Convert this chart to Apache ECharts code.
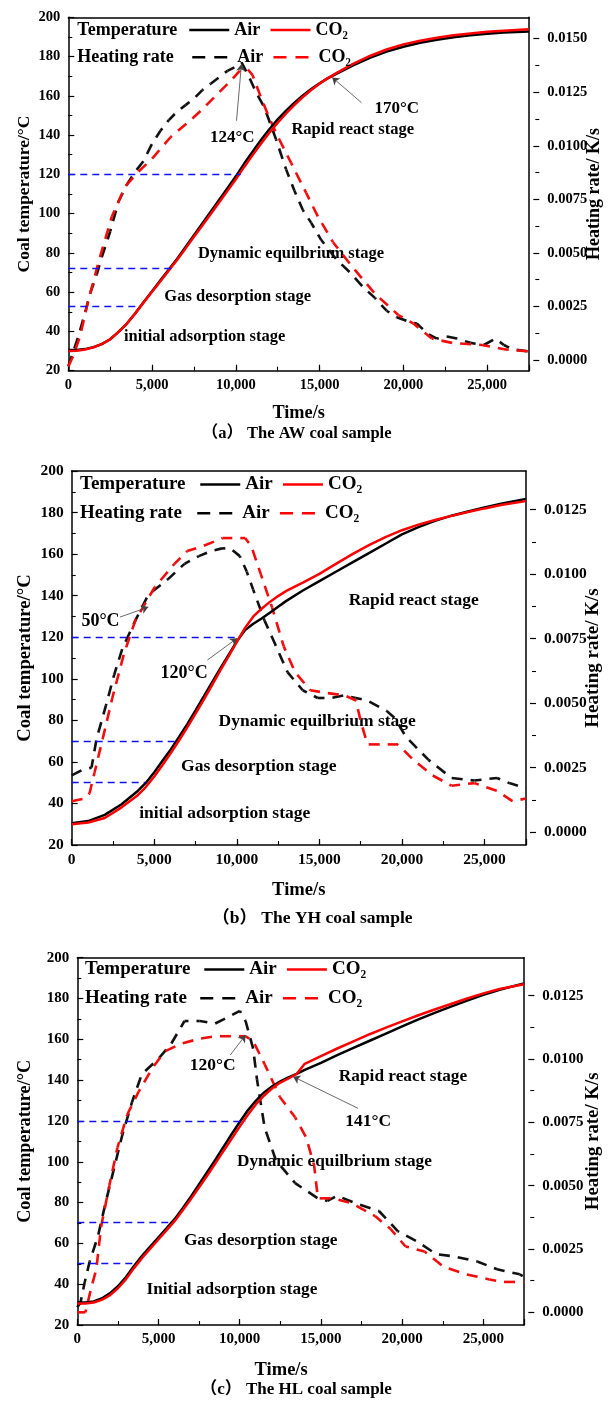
<!DOCTYPE html>
<html><head><meta charset="utf-8">
<script src="https://cdn.jsdelivr.net/npm/echarts@6/dist/echarts.min.js"></script>
<style>html,body{margin:0;padding:0;background:#fff}#c{width:611px;height:1403px}</style>
</head><body><div id="c"></div>
<script>
// ---------------- DATA ----------------
// Panel (a) AW coal
const aTempTime = [0,500,1000,1500,2000,2500,3000,3500,4000,4500,5000,5500,6000,6500,7000,7500,8000,8500,9000,9500,10000,10500,11000,11500,12000,12500,13000,13500,14000,14500,15000,15500,16000,17000,18000,19000,20000,21000,22000,23000,24000,25000,26000,27500];
const aTempAir  = [30.5,30.5,31,32,33.5,36,39.8,44,49.3,55,60.5,66,71.5,77,83,89,95,101,107,113,119,125.5,131.5,137.5,143,148,152.5,156.5,160.2,163.5,166.4,169,171.2,175.5,179.3,182.5,185,187,188.6,189.8,190.8,191.6,192.2,192.8];
const aTempCO2  = [30,30.2,30.8,31.9,33.6,36,39.8,44,49.2,54.8,60.2,65.6,71,76.5,82.3,88.2,94,99.8,105.7,111.6,117.5,123.8,129.8,135.6,141.2,146.3,151,155.4,159.4,163,166.2,169,171.6,176.3,180.3,183.6,186.2,188.1,189.6,190.8,191.8,192.6,193.2,193.9];
const aRateAirTime = [0,300,600,1000,1300,1700,2000,2500,3000,3500,4000,4500,5000,5500,6000,6500,7000,7500,8000,8500,9000,9500,10000,10340,10800,11200,11700,12400,13000,13500,14000,14500,15100,15600,16000,16800,17600,18300,19000,19600,20300,20800,21500,22000,22600,23200,24000,24800,25500,26000,26500,27500];
const aRateAir     = [-0.0003,0.0004,0.0011,0.0022,0.0031,0.0040,0.0048,0.0060,0.0074,0.0082,0.0088,0.0093,0.0101,0.0107,0.0112,0.0116,0.0119,0.0122,0.0126,0.0129,0.0132,0.0135,0.0137,0.0139,0.0132,0.0125,0.0118,0.0103,0.0089,0.0079,0.0070,0.0064,0.0056,0.0051,0.0047,0.0041,0.0034,0.0029,0.0023,0.0020,0.0018,0.0017,0.0012,0.0010,0.0011,0.0010,0.0008,0.0007,0.0010,0.0007,0.0005,0.0004];
const aRateCO2Time = [0,300,700,1200,1850,2600,3400,4200,5000,6100,7300,8000,8750,9650,10230,10680,11000,11480,12000,12400,13300,14200,14900,15800,16900,18300,19700,20600,21700,22900,24700,26000,27500];
const aRateCO2     = [-0.0003,0.0002,0.0011,0.0028,0.0047,0.0067,0.0081,0.0088,0.0094,0.0104,0.0112,0.0117,0.0123,0.0130,0.0135,0.0136,0.0133,0.0123,0.0113,0.0106,0.0092,0.0078,0.0067,0.0055,0.0044,0.0031,0.0021,0.0017,0.0010,0.0008,0.0007,0.0005,0.0004];
const aGuides = [[120,10290],[72,6250],[53,4300]];
const aArrows = [[10040,147.3,10338,176.2],[17502,156.5,15752,169.4]];

// Panel (b) YH coal
const bTempTime = [0,1000,2000,3000,4000,4500,5000,5500,6000,6500,7000,7500,8000,8500,9000,9500,10000,10500,11000,11500,12000,12500,13000,14000,15000,16000,17000,18000,19000,20000,21000,22000,23000,24000,25000,26000,27500];
const bTempAir  = [30.5,31.5,34.5,39.5,46,50,55,60.5,66,72,78.2,84.8,91.5,98.3,105,111.5,118,123.5,126.5,129,131.8,134.7,137.5,142.5,147,151.5,156,160.5,165,169.5,173,176,178.5,180.5,182.5,184.3,186.5];
const bTempCO2  = [30,30.8,33,38,44,48,53,58.5,64.3,70.3,76.6,83.2,90,97,104,110.8,117.8,124.5,130,133.7,137,139.8,142.3,146.3,150.5,155.3,160,164.3,168.2,171.5,174.2,176.4,178.4,180.3,182,183.6,185.5];
const bRateAirTime = [0,600,1200,1500,2070,2570,3060,3850,4640,5820,6830,7700,8450,9100,9600,10180,10600,10990,11680,12380,13070,13990,14900,15700,16500,17200,17900,19070,19600,20230,21610,23000,24380,25760,26500,27500];
const bRateAir     = [0.0022,0.0024,0.0025,0.0036,0.0049,0.0061,0.0071,0.0082,0.0092,0.0098,0.0104,0.0107,0.0109,0.0110,0.0110,0.0107,0.0101,0.0094,0.0082,0.0072,0.0062,0.0055,0.0052,0.0052,0.0053,0.0052,0.0051,0.0047,0.0044,0.0037,0.0028,0.0021,0.0020,0.0021,0.0019,0.0017];
const bRateCO2Time = [0,800,1080,1380,1870,2460,3160,3850,5030,6220,7000,7990,9140,10065,10500,10870,11450,12140,12840,13530,14450,15380,16530,17220,17500,17910,18840,19760,20690,21850,23000,24380,25760,26690,27500];
const bRateCO2     = [0.0012,0.0013,0.0015,0.0023,0.0036,0.0052,0.0069,0.0082,0.0095,0.0104,0.0109,0.0111,0.0114,0.0114,0.0114,0.0111,0.0100,0.0087,0.0072,0.0062,0.0055,0.0054,0.0053,0.0051,0.0043,0.0034,0.0034,0.0034,0.0028,0.0022,0.0018,0.0019,0.0016,0.0012,0.0013];
const bGuides = [[120,10000],[70,6260],[50,4450]];
const bArrows = [[2920,129.7,4640,134.5],[8217,109,10018,119.5]];

// Panel (c) HL coal
const cTempTime = [0,500,1000,1500,2000,2500,3000,3500,4000,4500,5000,5500,6000,6500,7000,7500,8000,8500,9000,9500,10000,10500,11000,11500,12000,12500,13000,13500,14000,15000,16000,17000,18000,19000,20000,21000,22000,23000,24000,25000,26000,27500];
const cTempAir  = [31,31,31.5,33,35.5,39,43.5,49,54,58.5,63,67.5,72,77.3,83,89,95,101,107.3,113.5,119.5,125.2,130,134,137,139.4,141.4,143.1,145,148.5,152.3,155.8,159.3,162.8,166.3,169.8,173,176,179,181.8,184.3,187.4];
const cTempCO2  = [30.5,30.5,31,32.3,34.5,38,42.5,48,53,57.5,62,66.5,71,76.3,81.8,87.5,93.3,99.2,105.3,111.3,117.2,123,128.2,132.5,136,138.8,140.8,143,148,151.8,155.5,159,162.5,165.7,168.8,171.8,174.6,177.3,180,182.5,184.7,187];
const cRateAirTime = [0,200,460,760,1270,1770,2270,2770,3370,3970,4980,5780,6600,7540,8480,9420,10010,10360,10830,11060,11530,12230,13410,14810,15400,16000,17160,18570,19740,20910,22090,23260,24660,25840,27240,27500];
const cRateAir     = [0.0002,0.0004,0.0012,0.0020,0.0030,0.0044,0.0057,0.0070,0.0083,0.0094,0.0100,0.0106,0.0115,0.0115,0.0114,0.0117,0.0119,0.0115,0.0104,0.0092,0.0073,0.0060,0.0051,0.0045,0.0044,0.0046,0.0043,0.0040,0.0032,0.0028,0.0023,0.0022,0.0020,0.0017,0.0015,0.0014];
const cRateCO2Time = [0,500,870,1170,1470,1970,2470,3070,3770,4580,5380,6380,7500,8480,9890,10360,10830,11530,12470,13410,14090,14580,14810,15750,16920,18330,19270,20210,21380,22550,23960,25370,26100,27500];
const cRateCO2     = [0,0,0.0010,0.0017,0.0034,0.0050,0.0065,0.0078,0.0087,0.0096,0.0103,0.0106,0.0108,0.0109,0.0109,0.0109,0.0107,0.0098,0.0085,0.0077,0.0069,0.0058,0.0045,0.0045,0.0043,0.0038,0.0033,0.0026,0.0024,0.0018,0.0015,0.0013,0.0012,0.0012];
const cGuides = [[120,10360],[70.3,5900],[50.2,3550]];
const cArrows = [[9418,152.3,10357,162.1],[17278,126.2,13288,141.7]];

// Texts
const xName = 'Time/s';
const leftName = 'Coal temperature/°C';
const rightName = 'Heating rate/ K/s';
const tempNames = ['Air','CO₂'];
const rateNames = ['Air ','CO₂ '];

// ---------------- LAYOUT ----------------
const FONT = "'Liberation Serif','Times New Roman',serif";
const CAPFONT = "'Liberation Serif','Noto Sans CJK SC',serif";
const panels = [
  {grid:{left:68.3,top:17.3,width:471,height:353.4}, rateMax:0.016, helper:{top:38.7,height:321.3,max:0.015},
   fs:{tick:14.5,xname:18.3,lname:17.5,rname:18,legend:18,stage:16.5,ann:17,cap:16.5},
   gaps:{l:34.5,r:56,x:33.5}, xnamePad:0,
   leg:{r1:[188,30],r2:[191,57.3],tx:77.3},
   tT:aTempTime,tA:aTempAir,tC:aTempCO2,rAT:aRateAirTime,rA:aRateAir,rCT:aRateCO2Time,rC:aRateCO2,guides:aGuides,arrows:aArrows,
   texts:[['124°C',232.3,137.3,'ann'],['170°C',396.7,108.3,'ann'],['Rapid react stage',352.7,130,'stage'],['Dynamic equilbrium stage',291,253.3,'stage'],['Gas desorption stage',237.7,296.7,'stage'],['initial adsorption stage',204.6,336.7,'stage'],['（a） The AW coal sample',296.6,433.3,'cap']]},
  {grid:{left:71.7,top:471,width:464.3,height:374}, rateMax:0.014, helper:{top:509.7,height:322.4,max:0.0125},
   fs:{tick:15.5,xname:18.6,lname:18.7,rname:19,legend:19,stage:17.5,ann:18,cap:17.5},
   gaps:{l:37.3,r:58.2,x:35.7}, xnamePad:0,
   leg:{r1:[199,484.5],r2:[196,513.3],tx:80},
   tT:bTempTime,tA:bTempAir,tC:bTempCO2,rAT:bRateAirTime,rA:bRateAir,rCT:bRateCO2Time,rC:bRateCO2,guides:bGuides,arrows:bArrows,
   texts:[['50°C',100.5,621.7,'ann'],['120°C',184.1,673.3,'ann'],['Rapid react stage',413.7,600.7,'stage'],['Dynamic equilbrium stage',317.2,721.7,'stage'],['Gas desorption stage',258.8,766,'stage'],['initial adsorption stage',224.7,813.3,'stage'],['（b） The YH coal sample',312.4,918.3,'cap']]},
  {grid:{left:77.3,top:957.7,width:457,height:367.3}, rateMax:0.014, helper:{top:995.7,height:316.6,max:0.0125},
   fs:{tick:15,xname:18.5,lname:18.2,rname:18.8,legend:19,stage:17.3,ann:17.5,cap:17},
   gaps:{l:43.2,r:60,x:35.7}, xnamePad:39,
   leg:{r1:[203,969.5],r2:[199,998.3],tx:85},
   tT:cTempTime,tA:cTempAir,tC:cTempCO2,rAT:cRateAirTime,rA:cRateAir,rCT:cRateCO2Time,rC:cRateCO2,guides:cGuides,arrows:cArrows,
   texts:[['120°C',212.8,1065,'ann'],['141°C',368.3,1121.7,'ann'],['Rapid react stage',403,1076.7,'stage'],['Dynamic equilbrium stage',334.4,1162,'stage'],['Gas desorption stage',260.7,1241,'stage'],['Initial adsorption stage',231.9,1289.3,'stage'],['（c） The HL coal sample',296,1390,'cap']]}
];

const zip = (t, v) => t.map((x, i) => [x, v[i]]);
const addCommas = v => String(v).replace(/\B(?=(\d{3})+(?!\d))/g, ',');
const AX = {color:'#000', width:1.5};
const DASH_ON = 11, DASH_OFF = 8;
const RATE_BLACK = '#111111', RATE_RED = '#f20d0d';

// split a pixel polyline into straight dash segments [x1,y1,x2,y2] with a continuous pattern
function dashSegments(pts, on, off) {
  const segs = [];
  let drawing = true, remain = on;
  for (let i = 1; i < pts.length; i++) {
    const x0 = pts[i - 1][0], y0 = pts[i - 1][1], x1 = pts[i][0], y1 = pts[i][1];
    const len = Math.hypot(x1 - x0, y1 - y0);
    if (!(len > 1e-9)) continue;
    const ux = (x1 - x0) / len, uy = (y1 - y0) / len;
    let pos = 0;
    while (len - pos > remain) {
      const np = pos + remain;
      if (drawing) segs.push([x0 + ux * pos, y0 + uy * pos, x0 + ux * np, y0 + uy * np]);
      pos = np;
      drawing = !drawing;
      remain = drawing ? on : off;
    }
    if (drawing) segs.push([x0 + ux * pos, y0 + uy * pos, x1, y1]);
    remain -= (len - pos);
  }
  return segs;
}

function rateSeries(name, xi, yi, pts, stroke) {
  return {type:'custom', name, xAxisIndex:xi, yAxisIndex:yi, data:pts, silent:true, animation:false,
    itemStyle:{color:stroke},
    renderItem:(params, api) => {
      if (params.dataIndex !== 0) return null;
      const px = pts.map(d => api.coord(d));
      return {type:'group', children:dashSegments(px, DASH_ON, DASH_OFF).map(s => ({
        type:'line', shape:{x1:s[0], y1:s[1], x2:s[2], y2:s[3]},
        style:{stroke, lineWidth:2.6, fill:null, lineCap:'butt'}}))};
    }};
}

const grid = [], xAxis = [], yAxis = [], series = [], legend = [], graphic = [];
panels.forEach((p, i) => {
  grid[i] = Object.assign({containLabel:false}, p.grid);
  grid[3 + i] = {left:p.grid.left, width:p.grid.width, top:p.helper.top, height:p.helper.height, containLabel:false};
});
panels.forEach((p, i) => {
  const lab = {fontFamily:FONT, fontWeight:'bold', fontSize:p.fs.tick, color:'#000'};
  xAxis.push({gridIndex:i, type:'value', position:'bottom', min:0, max:27500, interval:5000,
    axisLine:{onZero:false, lineStyle:AX}, axisTick:{inside:true, length:6, lineStyle:{color:'#000', width:1.2}},
    axisLabel:Object.assign({margin:7, formatter:v => (v % 5000 === 0 ? addCommas(v) : '')}, lab),
    splitLine:{show:false}, name:xName, nameLocation:'middle', nameGap:p.gaps.x, nameMoveOverlap:false,
    nameTextStyle:{fontFamily:FONT, fontWeight:'bold', fontSize:p.fs.xname, color:'#000', padding:[0, p.xnamePad, 0, 0]}});
  xAxis.push({gridIndex:i, type:'value', position:'bottom', min:0, max:27500, interval:2500,
    axisLine:{show:false, onZero:false}, axisTick:{inside:true, length:4, lineStyle:{color:'#000', width:1.1}},
    axisLabel:{show:false}, splitLine:{show:false}});
  xAxis.push({gridIndex:i, type:'value', position:'top', min:0, max:27500,
    axisLine:{onZero:false, lineStyle:AX}, axisTick:{show:false}, axisLabel:{show:false}, splitLine:{show:false}});
  yAxis.push({gridIndex:i, type:'value', position:'left', min:20, max:200, interval:20,
    axisLine:{show:true, onZero:false, lineStyle:AX}, axisTick:{inside:true, length:6, lineStyle:{color:'#000', width:1.2}},
    minorTick:{show:true, splitNumber:2, length:4, lineStyle:{color:'#000', width:1.1}},
    axisLabel:Object.assign({margin:8}, lab), splitLine:{show:false}, minorSplitLine:{show:false},
    name:leftName, nameLocation:'middle', nameGap:p.gaps.l, nameMoveOverlap:false,
    nameTextStyle:{fontFamily:FONT, fontWeight:'bold', fontSize:p.fs.lname, color:'#000'}});
  yAxis.push({gridIndex:i, type:'value', position:'right', min:-0.0005, max:p.rateMax,
    axisLine:{show:true, onZero:false, lineStyle:AX}, axisTick:{show:false}, axisLabel:{show:false}, splitLine:{show:false},
    name:rightName, nameLocation:'middle', nameRotate:90, nameGap:p.gaps.r, nameMoveOverlap:false,
    nameTextStyle:{fontFamily:FONT, fontWeight:'bold', fontSize:p.fs.rname, color:'#000'}});
  yAxis.push({gridIndex:3 + i, type:'value', position:'right', min:0, max:p.helper.max, interval:0.0025,
    axisLine:{show:false, onZero:false}, axisTick:{inside:true, length:6, lineStyle:{color:'#000', width:1.2}},
    minorTick:{show:true, splitNumber:2, length:4, lineStyle:{color:'#000', width:1.1}},
    axisLabel:Object.assign({margin:8, formatter:v => v.toFixed(4)}, lab), splitLine:{show:false}, minorSplitLine:{show:false}});
});
panels.forEach((p, i) => {
  xAxis.push({gridIndex:3 + i, type:'value', min:0, max:27500, show:false});
});

// empty line series that only provide the legend icons of the heating-rate entries
series.push({type:'line', name:rateNames[0], xAxisIndex:0, yAxisIndex:1, data:[], symbol:'none',
  lineStyle:{color:'#000', width:2.5}, itemStyle:{color:'#000'}, silent:true});
series.push({type:'line', name:rateNames[1], xAxisIndex:0, yAxisIndex:1, data:[], symbol:'none',
  lineStyle:{color:'#ff0000', width:2.5}, itemStyle:{color:'#ff0000'}, silent:true});

panels.forEach((p, i) => {
  const xi = 3 * i, yl = 3 * i, yr = 3 * i + 1;
  series.push(rateSeries(rateNames[0], xi, yr, zip(p.rAT, p.rA), RATE_BLACK));
  series.push(rateSeries(rateNames[1], xi, yr, zip(p.rCT, p.rC), RATE_RED));
  series.push({type:'line', name:tempNames[0], xAxisIndex:xi, yAxisIndex:yl, data:zip(p.tT, p.tA), symbol:'none',
    lineStyle:{color:'#000', width:2.5}, itemStyle:{color:'#000'}, animation:false, silent:true,
    markLine:{silent:true, symbol:['none','none'], label:{show:false}, animation:false,
      lineStyle:{color:'#1010ff', width:1.4, type:[7,5]},
      data:p.guides.map(g => [{coord:[0, g[0]]}, {coord:[g[1], g[0]]}])}});
  series.push({type:'line', name:tempNames[1], xAxisIndex:xi, yAxisIndex:yl, data:zip(p.tT, p.tC), symbol:'none',
    lineStyle:{color:'#ff0000', width:2.5}, itemStyle:{color:'#ff0000'}, animation:false, silent:true,
    markLine:{silent:true, symbol:['none','arrow'], symbolSize:7, label:{show:false}, animation:false,
      lineStyle:{color:'#444', width:0.8, type:'solid'},
      data:p.arrows.map(a => [{coord:[a[0], a[1]]}, {coord:[a[2], a[3]]}])}});
  const lts = {fontFamily:FONT, fontWeight:'bold', fontSize:p.fs.legend, color:'#000'};
  legend.push({left:p.leg.r1[0], top:p.leg.r1[1] - p.fs.legend / 2, padding:0, itemGap:9, itemWidth:40, itemHeight:14,
    selectedMode:false, data:tempNames, formatter:n => n.trim(), textStyle:lts,
    itemStyle:{opacity:0}, lineStyle:{width:2.5, type:'solid', opacity:1}});
  legend.push({left:p.leg.r2[0], top:p.leg.r2[1] - p.fs.legend / 2, padding:0, itemGap:9, itemWidth:40, itemHeight:14,
    selectedMode:false, data:rateNames, formatter:n => n.trim(), textStyle:lts,
    itemStyle:{opacity:0}, lineStyle:{width:2.5, type:[13,9], opacity:1}});
  graphic.push({type:'text', x:p.leg.tx, y:p.leg.r1[1], silent:true,
    style:{text:'Temperature', font:`bold ${p.fs.legend}px ${FONT}`, fill:'#000', textAlign:'left', textVerticalAlign:'middle', align:'left', verticalAlign:'middle'}});
  graphic.push({type:'text', x:p.leg.tx, y:p.leg.r2[1], silent:true,
    style:{text:'Heating rate', font:`bold ${p.fs.legend}px ${FONT}`, fill:'#000', textAlign:'left', textVerticalAlign:'middle', align:'left', verticalAlign:'middle'}});
  p.texts.forEach(t => {
    graphic.push({type:'text', x:t[1], y:t[2], silent:true,
      style:{text:t[0], font:`bold ${p.fs[t[3]]}px ${t[3] === 'cap' ? CAPFONT : FONT}`, fill:'#000',
        textAlign:'center', textVerticalAlign:'middle', align:'center', verticalAlign:'middle'}});
  });
});

const chart = echarts.init(document.getElementById('c'), null, {renderer:'canvas'});
chart.setOption({backgroundColor:'#ffffff', animation:false, grid, xAxis, yAxis, series, legend, graphic});
</script>
</body></html>
